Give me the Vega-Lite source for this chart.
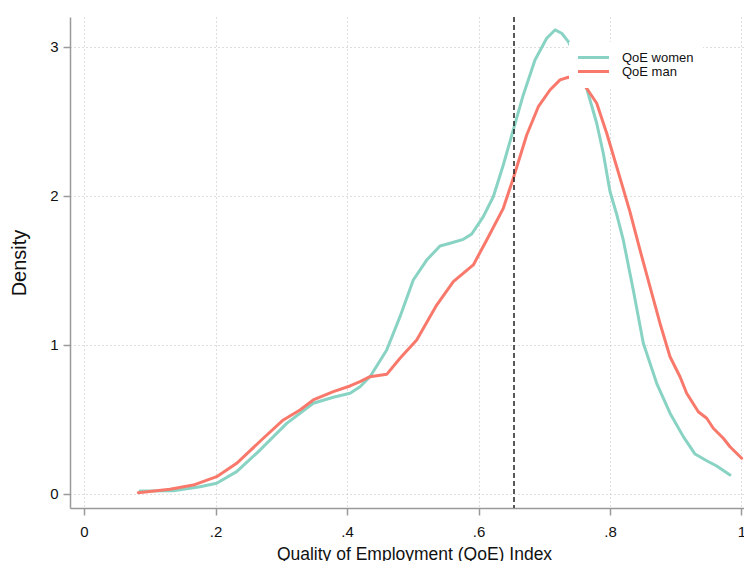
{
  "$schema": "https://vega.github.io/schema/vega-lite/v6.json",
  "autosize": {"type": "none"},
  "padding": {"left": 70, "top": 17, "right": 0, "bottom": 53},
  "width": 688,
  "height": 491,
  "background": "white",
  "config": {
    "view": {"stroke": null},
    "font": "Liberation Sans",
    "axis": {
      "domainColor": "#9a9a9a",
      "domainWidth": 1.5,
      "tickColor": "#9a9a9a",
      "tickWidth": 1.5,
      "tickSize": 7,
      "labelColor": "#111111",
      "labelFont": "Liberation Sans",
      "labelFontSize": 15,
      "titleColor": "#111111",
      "titleFont": "Liberation Sans",
      "titleFontWeight": "normal",
      "gridColor": "#bdbdbd",
      "gridDash": [1, 3],
      "gridWidth": 1
    }
  },
  "layer": [
    {
      "data": {
        "values": [
          {"x": 0.0852, "density": 0.020, "group": "QoE women"},
          {"x": 0.1358, "density": 0.022, "group": "QoE women"},
          {"x": 0.1764, "density": 0.049, "group": "QoE women"},
          {"x": 0.2018, "density": 0.072, "group": "QoE women"},
          {"x": 0.2322, "density": 0.150, "group": "QoE women"},
          {"x": 0.2677, "density": 0.295, "group": "QoE women"},
          {"x": 0.3083, "density": 0.474, "group": "QoE women"},
          {"x": 0.3487, "density": 0.609, "group": "QoE women"},
          {"x": 0.3792, "density": 0.649, "group": "QoE women"},
          {"x": 0.4046, "density": 0.676, "group": "QoE women"},
          {"x": 0.4198, "density": 0.720, "group": "QoE women"},
          {"x": 0.4350, "density": 0.787, "group": "QoE women"},
          {"x": 0.4604, "density": 0.966, "group": "QoE women"},
          {"x": 0.4806, "density": 1.190, "group": "QoE women"},
          {"x": 0.5008, "density": 1.436, "group": "QoE women"},
          {"x": 0.5212, "density": 1.570, "group": "QoE women"},
          {"x": 0.5414, "density": 1.664, "group": "QoE women"},
          {"x": 0.5567, "density": 1.683, "group": "QoE women"},
          {"x": 0.5769, "density": 1.709, "group": "QoE women"},
          {"x": 0.5897, "density": 1.745, "group": "QoE women"},
          {"x": 0.6073, "density": 1.861, "group": "QoE women"},
          {"x": 0.6225, "density": 1.995, "group": "QoE women"},
          {"x": 0.6377, "density": 2.208, "group": "QoE women"},
          {"x": 0.6529, "density": 2.443, "group": "QoE women"},
          {"x": 0.6681, "density": 2.678, "group": "QoE women"},
          {"x": 0.6859, "density": 2.913, "group": "QoE women"},
          {"x": 0.7037, "density": 3.058, "group": "QoE women"},
          {"x": 0.7163, "density": 3.114, "group": "QoE women"},
          {"x": 0.7265, "density": 3.092, "group": "QoE women"},
          {"x": 0.7366, "density": 3.036, "group": "QoE women"},
          {"x": 0.7500, "density": 2.913, "group": "QoE women"},
          {"x": 0.7645, "density": 2.723, "group": "QoE women"},
          {"x": 0.7798, "density": 2.488, "group": "QoE women"},
          {"x": 0.7898, "density": 2.287, "group": "QoE women"},
          {"x": 0.8000, "density": 2.030, "group": "QoE women"},
          {"x": 0.8100, "density": 1.880, "group": "QoE women"},
          {"x": 0.8202, "density": 1.705, "group": "QoE women"},
          {"x": 0.8354, "density": 1.369, "group": "QoE women"},
          {"x": 0.8507, "density": 1.011, "group": "QoE women"},
          {"x": 0.8710, "density": 0.743, "group": "QoE women"},
          {"x": 0.8913, "density": 0.542, "group": "QoE women"},
          {"x": 0.9115, "density": 0.385, "group": "QoE women"},
          {"x": 0.9293, "density": 0.268, "group": "QoE women"},
          {"x": 0.9471, "density": 0.223, "group": "QoE women"},
          {"x": 0.9623, "density": 0.188, "group": "QoE women"},
          {"x": 0.9825, "density": 0.128, "group": "QoE women"},
          {"x": 0.0826, "density": 0.009, "group": "QoE man"},
          {"x": 0.1308, "density": 0.032, "group": "QoE man"},
          {"x": 0.1662, "density": 0.060, "group": "QoE man"},
          {"x": 0.2018, "density": 0.116, "group": "QoE man"},
          {"x": 0.2322, "density": 0.206, "group": "QoE man"},
          {"x": 0.2727, "density": 0.374, "group": "QoE man"},
          {"x": 0.3031, "density": 0.497, "group": "QoE man"},
          {"x": 0.3285, "density": 0.564, "group": "QoE man"},
          {"x": 0.3487, "density": 0.631, "group": "QoE man"},
          {"x": 0.3792, "density": 0.687, "group": "QoE man"},
          {"x": 0.4046, "density": 0.725, "group": "QoE man"},
          {"x": 0.4198, "density": 0.754, "group": "QoE man"},
          {"x": 0.4350, "density": 0.787, "group": "QoE man"},
          {"x": 0.4604, "density": 0.803, "group": "QoE man"},
          {"x": 0.4806, "density": 0.911, "group": "QoE man"},
          {"x": 0.5060, "density": 1.034, "group": "QoE man"},
          {"x": 0.5364, "density": 1.268, "group": "QoE man"},
          {"x": 0.5617, "density": 1.425, "group": "QoE man"},
          {"x": 0.5921, "density": 1.537, "group": "QoE man"},
          {"x": 0.6125, "density": 1.705, "group": "QoE man"},
          {"x": 0.6377, "density": 1.917, "group": "QoE man"},
          {"x": 0.6529, "density": 2.119, "group": "QoE man"},
          {"x": 0.6733, "density": 2.409, "group": "QoE man"},
          {"x": 0.6910, "density": 2.599, "group": "QoE man"},
          {"x": 0.7087, "density": 2.711, "group": "QoE man"},
          {"x": 0.7240, "density": 2.779, "group": "QoE man"},
          {"x": 0.7366, "density": 2.797, "group": "QoE man"},
          {"x": 0.7500, "density": 2.792, "group": "QoE man"},
          {"x": 0.7645, "density": 2.723, "group": "QoE man"},
          {"x": 0.7798, "density": 2.622, "group": "QoE man"},
          {"x": 0.7950, "density": 2.421, "group": "QoE man"},
          {"x": 0.8152, "density": 2.121, "group": "QoE man"},
          {"x": 0.8304, "density": 1.893, "group": "QoE man"},
          {"x": 0.8456, "density": 1.638, "group": "QoE man"},
          {"x": 0.8608, "density": 1.391, "group": "QoE man"},
          {"x": 0.8760, "density": 1.146, "group": "QoE man"},
          {"x": 0.8913, "density": 0.921, "group": "QoE man"},
          {"x": 0.9065, "density": 0.787, "group": "QoE man"},
          {"x": 0.9166, "density": 0.676, "group": "QoE man"},
          {"x": 0.9343, "density": 0.552, "group": "QoE man"},
          {"x": 0.9471, "density": 0.508, "group": "QoE man"},
          {"x": 0.9571, "density": 0.441, "group": "QoE man"},
          {"x": 0.9723, "density": 0.374, "group": "QoE man"},
          {"x": 0.9825, "density": 0.317, "group": "QoE man"},
          {"x": 1.0003, "density": 0.240, "group": "QoE man"}
        ]
      },
      "mark": {"type": "line", "strokeWidth": 3, "strokeCap": "round", "strokeJoin": "round"},
      "encoding": {
        "x": {
          "field": "x",
          "type": "quantitative",
          "scale": {"domain": [-0.0213, 1.0251], "nice": false, "zero": false},
          "axis": {
            "title": "Quality of Employment (QoE) Index",
            "titleFontSize": 17.5,
            "titlePadding": 6,
            "values": [0, 0.2, 0.4, 0.6, 0.8, 1],
            "labelExpr": "replace(format(datum.value, '.1~f'), '0.', '.')",
            "labelPadding": 9,
            "grid": true
          }
        },
        "y": {
          "field": "density",
          "type": "quantitative",
          "scale": {"domain": [-0.094, 3.201], "nice": false, "zero": false},
          "axis": {
            "title": "Density",
            "titleFontSize": 20,
            "titlePadding": 20,
            "values": [0, 1, 2, 3],
            "labelPadding": 5,
            "labelAngle": 0,
            "grid": true
          }
        },
        "color": {
          "field": "group",
          "type": "nominal",
          "scale": {"domain": ["QoE women", "QoE man"], "range": ["#88d3c3", "#f8796b"]},
          "legend": {
            "orient": "none",
            "legendX": 499,
            "legendY": 25,
            "title": null,
            "fillColor": "white",
            "padding": 9,
            "symbolType": "M-3.1,0H3.1",
            "symbolSize": 100,
            "symbolStrokeWidth": 3,
            "symbolOffset": 9,
            "labelOffset": 22,
            "labelFontSize": 13,
            "labelFont": "Liberation Sans",
            "labelColor": "#111111",
            "rowPadding": 0
          }
        }
      }
    },
    {
      "data": {"values": [{"cut": 0.654}]},
      "mark": {"type": "rule", "color": "#222222", "strokeWidth": 1.5, "strokeDash": [5, 3]},
      "encoding": {"x": {"field": "cut", "type": "quantitative"}}
    }
  ]
}
